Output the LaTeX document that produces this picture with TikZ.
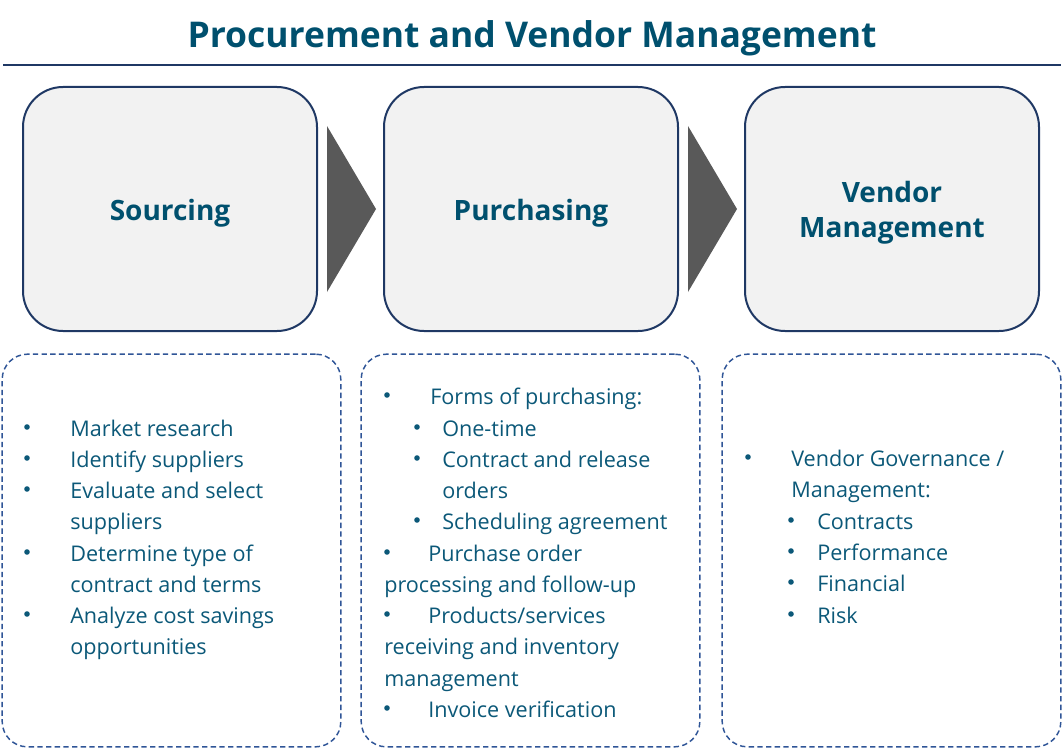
\documentclass[tikz,border=0pt]{standalone}
\usepackage{fontspec}
\setmainfont{Open Sans}
\usetikzlibrary{positioning}

\definecolor{titleblue}{HTML}{00506E}
\definecolor{textblue}{HTML}{0B5878}
\definecolor{navy}{HTML}{1F3864}
\definecolor{dashblue}{HTML}{2F5597}
\definecolor{stagegray}{HTML}{F2F2F2}
\definecolor{chevgray}{HTML}{595959}

\tikzset{
  stage/.style={draw=navy, line width=1.5pt, fill=stagegray, rounded corners=30pt,
    minimum width=220.5pt, minimum height=183pt},
  stagetext/.style={align=center, text=titleblue, inner sep=0pt,
    font=\fontsize{21}{26}\selectfont\bfseries},
  panel/.style={draw=dashblue, line width=1.1pt, dash pattern=on 4pt off 2.5pt,
    rounded corners=19pt, minimum width=254pt, minimum height=294.5pt},
  item/.style={anchor=base west, inner sep=0pt, text=textblue,
    font=\fontsize{16.2}{18}\selectfont},
  dot/.style={circle, fill=textblue, inner sep=0pt, minimum size=4.2pt}
}

\begin{document}
\begin{tikzpicture}[x=0.75pt,y=-0.75pt]
\useasboundingbox (0,0) rectangle (1064,749);

% title and rule
\node[anchor=base, text=titleblue, font=\fontsize{26.6}{30}\selectfont\bfseries] (title) at (532,48) {Procurement and Vendor Management};
\draw[navy, line width=1.8pt] (3,65) -- (1061,65);

% stages
\node[stage] (src) at (170,209) {};
\node[stage] (pur) at (531,209) {};
\node[stage] (ven) at (892,209) {};
\node[stagetext] (srclabel) at ([yshift=-3pt]src.center) {Sourcing};
\node[stagetext] (purlabel) at ([yshift=-3pt]pur.center) {Purchasing};
\node[stagetext] (venlabel) at ([yshift=-3pt]ven.center) {Vendor\\Management};

% chevrons between stages
\fill[chevgray] ([xshift=6.75pt,yshift=62.25pt]src.east) -- ([xshift=-5.25pt]pur.west) -- ([xshift=6.75pt,yshift=-62.25pt]src.east) -- cycle;
\fill[chevgray] ([xshift=6.75pt,yshift=62.25pt]pur.east) -- ([xshift=-5.25pt]ven.west) -- ([xshift=6.75pt,yshift=-62.25pt]pur.east) -- cycle;

% detail panels
\node[panel] (srcbox) at (171.5,550.5) {};
\node[panel] (purbox) at (530.5,550.5) {};
\node[panel] (venbox) at (891.5,550.5) {};

% sourcing list
\foreach \x/\y/\t [count=\i] in {
  70/436/{Market research}, 70/467/{Identify suppliers}, 70/498/{Evaluate and select},
  70/529/{suppliers}, 70/561/{Determine type of}, 70/592/{contract and terms},
  70/623/{Analyze cost savings}, 70/654/{opportunities}}
  \node[item] (s\i) at (\x,\y) {\t};
\foreach \y [count=\i] in {436,467,498,561,623}
  \node[dot] (sb\i) at (27,\y-9) {};

% purchasing list
\foreach \x/\y/\t [count=\i] in {
  430/404/{Forms of purchasing:}, 442/436/{One-time}, 442/467/{Contract and release},
  442/498/{orders}, 442/529/{Scheduling agreement}, 428/561/{Purchase order},
  384/592/{processing and follow-up}, 428/623/{Products/services},
  384/654/{receiving and inventory}, 384/686/{management}, 428/717/{Invoice verification}}
  \node[item] (p\i) at (\x,\y) {\t};
\foreach \x/\y [count=\i] in {387/404,417/436,417/467,417/529,387/561,387/623,387/717}
  \node[dot] (pb\i) at (\x,\y-9) {};

% vendor management list
\foreach \x/\y/\t [count=\i] in {
  791/466/{Vendor Governance /}, 791/497/{Management:}, 817/529/{Contracts},
  817/560/{Performance}, 817/591/{Financial}, 817/623/{Risk}}
  \node[item] (v\i) at (\x,\y) {\t};
\foreach \x/\y [count=\i] in {748/466,791/529,791/560,791/591,791/623}
  \node[dot] (vb\i) at (\x,\y-9) {};
\end{tikzpicture}
\end{document}
